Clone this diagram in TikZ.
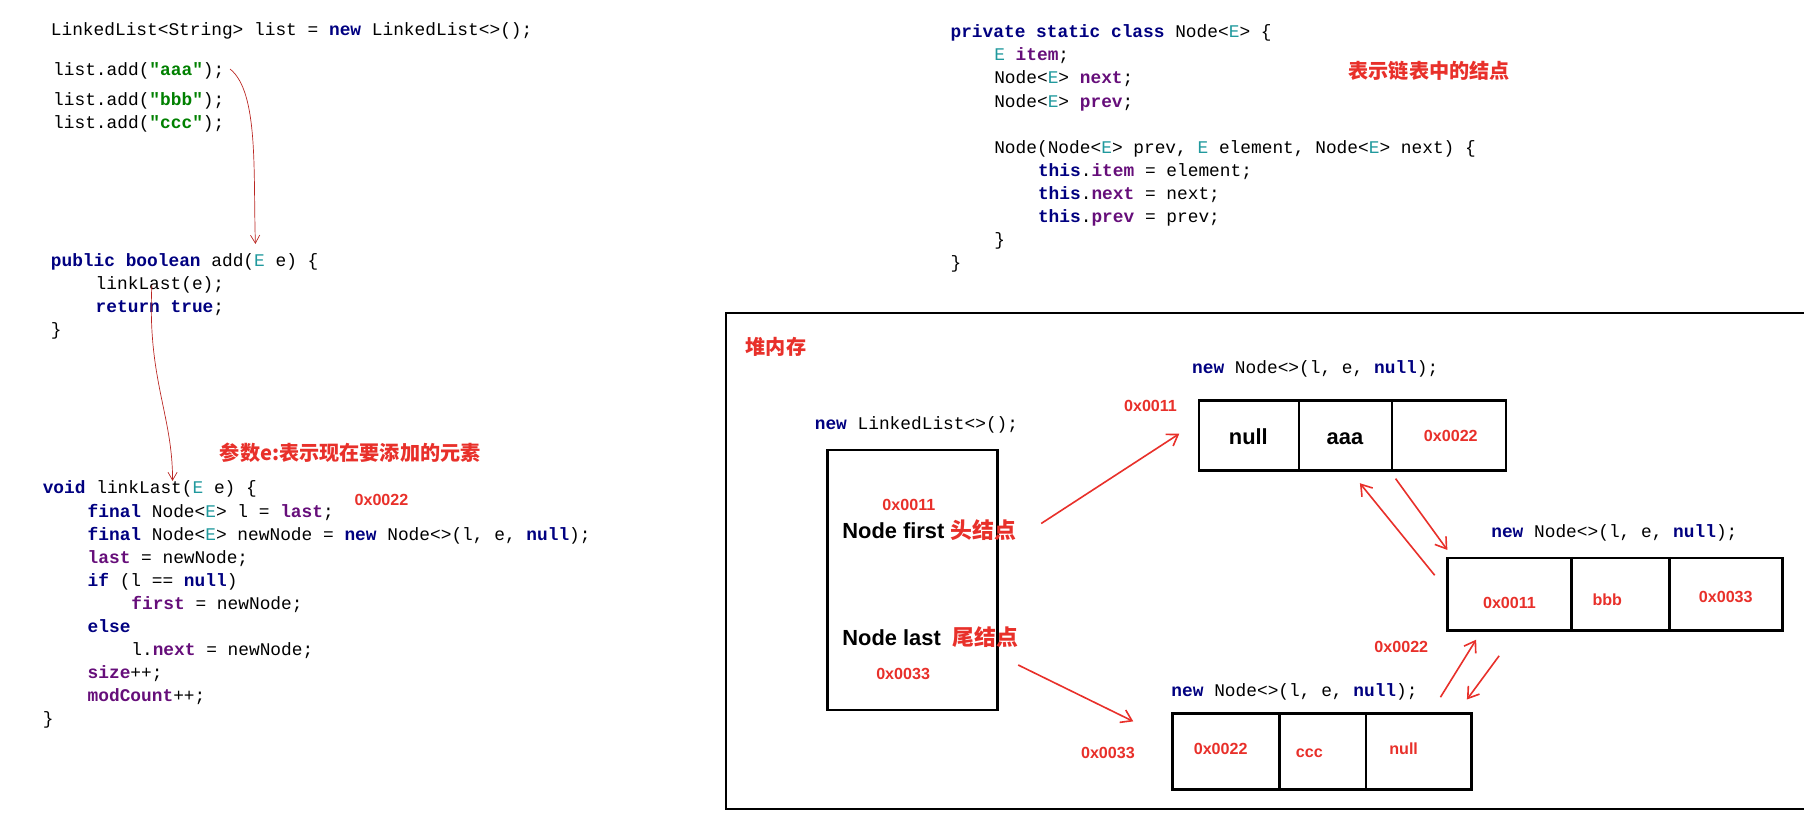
\documentclass[tikz,border=0pt]{standalone}
\usepackage{fontspec}
\newfontfamily\code{Liberation Mono}
\newfontfamily\cjk{Noto Sans CJK SC}
\newfontfamily\sans{Liberation Sans}
\usetikzlibrary{arrows.meta}
\definecolor{kw}{HTML}{000080}
\definecolor{tv}{HTML}{20999D}
\definecolor{fd}{HTML}{660E7A}
\definecolor{st}{HTML}{008000}
\definecolor{rd}{HTML}{E8302A}
\newcommand{\K}[1]{\textcolor{kw}{\textbf{#1}}}
\newcommand{\T}[1]{\textcolor{tv}{#1}}
\newcommand{\F}[1]{\textcolor{fd}{\textbf{#1}}}
\newcommand{\Sg}[1]{\textcolor{st}{\textbf{#1}}}
\tikzset{x=1pt,y=-1pt,
 c/.style={anchor=base west,inner sep=0,font=\code\fontsize{15.5}{18}\selectfont},
 r/.style={anchor=base west,inner sep=0,text=rd,font=\cjk\bfseries\fontsize{17.5}{20}\selectfont},
 rc/.style={anchor=base,inner sep=0,text=rd,font=\sans\bfseries\fontsize{14}{16}\selectfont},
 b/.style={anchor=base west,inner sep=0,font=\sans\bfseries\fontsize{19}{22}\selectfont},
 box/.style={draw,line width=2.2pt},
 ra/.style={draw=rd,line width=1.4pt,-{Straight Barb[length=9pt,width=12pt]}},
 thin/.style={draw=rd!80!black,line width=0.6pt,-{Straight Barb[length=7pt,width=8pt]}}}
\begin{document}
\begin{tikzpicture}
\useasboundingbox (0,0) rectangle (1568,710);
% left code
\node[c] (l1) at (44,31) {LinkedList<String> list = \K{new} LinkedList<>();};
\node[c] (l2) at (46,66) {list.add(\Sg{"aaa"});};
\node[c] (l3) at (46,92) {list.add(\Sg{"bbb"});};
\node[c] (l4) at (46,112) {list.add(\Sg{"ccc"});};
\node[c] (a1) at (44,232) {\K{public} \K{boolean} add(\T{E} e) \{};
\node[c] (a2) at (83,252) {linkLast(e);};
\node[c] (a3) at (83,272) {\K{return} \K{true};};
\node[c] (a4) at (44,292) {\}};
\node[c] (k1) at (37,429) {\K{void} linkLast(\T{E} e) \{};
\node[c] (k2) at (76,450) {\K{final} Node<\T{E}> l = \F{last};};
\node[c] (k3) at (76,470) {\K{final} Node<\T{E}> newNode = \K{new} Node<>(l, e, \K{null});};
\node[c] (k4) at (76,490) {\F{last} = newNode;};
\node[c] (k5) at (76,510) {\K{if} (l == \K{null})};
\node[c] (k6) at (114,530) {\F{first} = newNode;};
\node[c] (k7) at (76,550) {\K{else}};
\node[c] (k8) at (114,570) {l.\F{next} = newNode;};
\node[c] (k9) at (76,590) {\F{size}++;};
\node[c] (k10) at (76,610) {\F{modCount}++;};
\node[c] (k11) at (37,630) {\}};
\node[r] (p1) at (191,400) {参数e:表示现在要添加的元素};
\node[rc,anchor=base west] (p2) at (308,439) {0x0022};
% right code
\node[c] (n1) at (826,33) {\K{private} \K{static} \K{class} Node<\T{E}> \{};
\node[c] (n2) at (864,53) {\T{E} \F{item};};
\node[c] (n3) at (864,73) {Node<\T{E}> \F{next};};
\node[c] (n4) at (864,93) {Node<\T{E}> \F{prev};};
\node[c] (n5) at (864,133) {Node(Node<\T{E}> prev, \T{E} element, Node<\T{E}> next) \{};
\node[c] (n6) at (902,153) {\K{this}.\F{item} = element;};
\node[c] (n7) at (902,173) {\K{this}.\F{next} = next;};
\node[c] (n8) at (902,193) {\K{this}.\F{prev} = prev;};
\node[c] (n9) at (864,213) {\}};
\node[c] (n10) at (826,233) {\}};
\node[r] (t1) at (1172,68) {表示链表中的结点};
% heap
\draw[line width=2.2pt] (1568,272) -- (631,272) -- (631,703) -- (1568,703);
\node[r] (heap) at (648,308) {堆内存};
\node[c] (ll) at (708,373) {\K{new} LinkedList<>();};
\node[box,minimum width=148pt,minimum height=226pt,anchor=north west,inner sep=0] (L) at (718,390) {};
\node[rc] at (790,444) {0x0011};
\node[b] (nf) at (732,468) {Node first \textcolor{rd}{\cjk 头结点}};
\node[b] (nl) at (732,561) {Node last \ \textcolor{rd}{\cjk 尾结点}};
\node[rc] at (785,591) {0x0033};
% node aaa
\node[c] at (1036,325) {\K{new} Node<>(l, e, \K{null});};
\node[box,minimum width=267pt,minimum height=61pt,anchor=north west,inner sep=0] (A) at (1041,347) {};
\draw[line width=2pt] (1129,347)--(1129,408) (1210,347)--(1210,408);
\node[b,anchor=base] at (1085,386) {null};
\node[b,anchor=base] at (1169,386) {aaa};
\node[rc] at (1261,384) {0x0022};
\node[rc] at (1000,358) {0x0011};
% node bbb
\node[c] at (1296,467) {\K{new} Node<>(l, e, \K{null});};
\node[box,minimum width=291pt,minimum height=63pt,anchor=north west,inner sep=0] (B) at (1257,484) {};
\draw[line width=2pt] (1366,484)--(1366,547) (1451,484)--(1451,547);
\node[rc] at (1312,529) {0x0011};
\node[rc] at (1397,526) {bbb};
\node[rc] at (1500,524) {0x0033};
\node[rc] at (1218,567) {0x0022};
% node ccc
\node[c] at (1018,605) {\K{new} Node<>(l, e, \K{null});};
\node[box,minimum width=260pt,minimum height=66pt,anchor=north west,inner sep=0] (C) at (1018,619) {};
\draw[line width=2pt] (1112,619)--(1112,685) (1187,619)--(1187,685);
\node[rc] at (1061,656) {0x0022};
\node[rc] at (1138,658) {ccc};
\node[rc] at (1220,656) {null};
\node[rc] at (963,659) {0x0033};
% arrows
\coordinate (f0) at (905,455); \coordinate (f1) at (1025,377);
\draw[ra] (f0) -- (f1);
\coordinate (g0) at (885,578); \coordinate (g1) at (985,627);
\draw[ra] (g0) -- (g1);
\coordinate (h0) at (1247,500); \coordinate (h1) at (1182,420);
\draw[ra] (h0) -- (h1);
\coordinate (i0) at (1213,416); \coordinate (i1) at (1258,478);
\draw[ra] (i0) -- (i1);
\coordinate (j0) at (1252,606); \coordinate (j1) at (1283,556);
\draw[ra] (j0) -- (j1);
\coordinate (m0) at (1303,570); \coordinate (m1) at (1275,608);
\draw[ra] (m0) -- (m1);
% thin call arrows
\coordinate (u0) at (200,60); \coordinate (u1) at (222,212);
\draw[thin] (u0) .. controls (225,80) and (220,150) .. (u1);
\coordinate (v0) at (132,248); \coordinate (v1) at (150,418);
\draw[thin] (v0) .. controls (128,330) and (150,360) .. (v1);
\end{tikzpicture}
\end{document}
